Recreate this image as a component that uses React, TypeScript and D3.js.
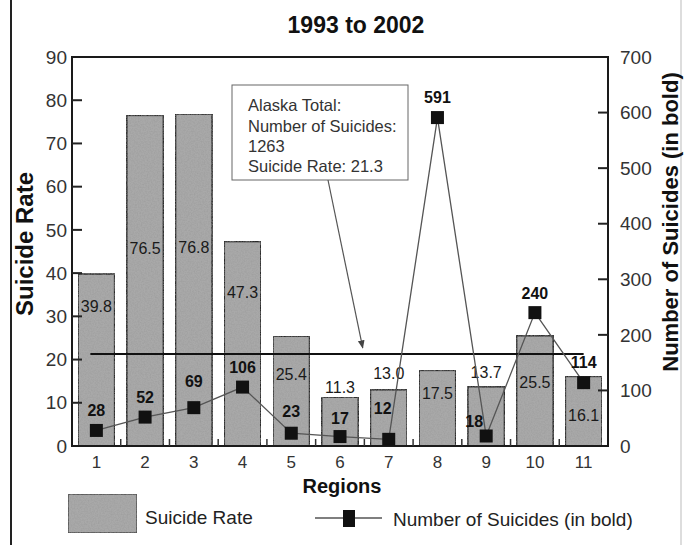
import React from "react";
import * as d3 from "d3";

const regions = ["1", "2", "3", "4", "5", "6", "7", "8", "9", "10", "11"];
const suicideRate = [39.8, 76.5, 76.8, 47.3, 25.4, 11.3, 13.0, 17.5, 13.7, 25.5, 16.1];
const suicideCount = [28, 52, 69, 106, 23, 17, 12, 591, 18, 240, 114];
const rateTicks = [0, 10, 20, 30, 40, 50, 60, 70, 80, 90];
const countTicks = [0, 100, 200, 300, 400, 500, 600, 700];
const alaskaTotalCount = 1263;
const alaskaTotalRate = 21.3;

const W = 684;
const H = 545;
const M = { left: 72, right: 608, top: 57, bottom: 446 };
const FONT = "'Liberation Sans', Arial, sans-serif";

// label nudges (px) so the numbers stay clear of each other, like the original
const rateLabelDy = [32, 133, 133, 51, 38, -10, -16, 23, -14, 47, 39];
const countLabelNudge = [
  [0, -20], [0, -20], [0, -26], [0, -20], [0, -22], [0, -18],
  [-6, -31], [0, -20], [-12, -15], [0, -19], [0, -20],
];

export default function App() {
  const x = d3
    .scaleBand<string>()
    .domain(regions)
    .range([M.left, M.right])
    .paddingInner(0.25)
    .paddingOuter(0.125);
  const yRate = d3.scaleLinear().domain([0, 90]).range([M.bottom, M.top]);
  const yCount = d3.scaleLinear().domain([0, 700]).range([M.bottom, M.top]);
  const cx = (r: string) => (x(r) as number) + x.bandwidth() / 2;

  const line = d3
    .line<number>()
    .x((_, i) => cx(regions[i]))
    .y((d) => yCount(d));

  const boundaries = regions
    .slice(0, -1)
    .map((r) => (x(r) as number) + x.bandwidth() + (x.step() - x.bandwidth()) / 2);

  const boxX = 232, boxY = 85, boxW = 176, boxH = 95;
  const arrowEnd = [cx("7") - 26, yRate(alaskaTotalRate) - 6];

  return (
    <svg
      width={W}
      height={H}
      style={{ position: "absolute", left: 0, top: 0, background: "#fff" }}
      fontFamily={FONT}
    >
      <defs>
        <filter id="grain" x="0" y="0" width="100%" height="100%">
          <feTurbulence type="fractalNoise" baseFrequency="0.7" numOctaves="2" seed="3" result="n" />
          <feColorMatrix in="n" type="matrix"
            values="0 0 0 0 0.3  0 0 0 0 0.3  0 0 0 0 0.3  0 0 0 0.9 -0.3" result="g" />
          <feComposite in="g" in2="SourceGraphic" operator="in" result="gc" />
          <feMerge>
            <feMergeNode in="SourceGraphic" />
            <feMergeNode in="gc" />
          </feMerge>
        </filter>
        <marker id="arrow" viewBox="0 0 10 10" refX="9" refY="5" markerWidth="7" markerHeight="7" orient="auto">
          <path d="M0,1 L10,5 L0,9 z" fill="#444" />
        </marker>
      </defs>

      {/* page borders of the scan */}
      <line x1={11} x2={11} y1={0} y2={H} stroke="#222" strokeWidth={2} />
      <line x1={681} x2={681} y1={0} y2={H} stroke="#bbb" strokeWidth={1} />

      <text x={356} y={33} textAnchor="middle" fontSize={23} fontWeight="bold" fill="#111">
        1993 to 2002
      </text>

      {/* bars */}
      {suicideRate.map((v, i) => (
        <rect
          key={"b" + i}
          x={x(regions[i])}
          y={yRate(v)}
          width={x.bandwidth()}
          height={M.bottom - yRate(v)}
          fill="#a9a9a9"
          stroke="#2b2b2b"
          strokeWidth={1.6}
          filter="url(#grain)"
        />
      ))}

      {/* plot frame */}
      <rect x={M.left} y={M.top} width={M.right - M.left} height={M.bottom - M.top}
        fill="none" stroke="#1a1a1a" strokeWidth={2} />

      {/* left ticks */}
      {rateTicks.map((t) => (
        <g key={"lt" + t}>
          {t > 0 && t < 90 && (
            <line x1={M.left} x2={M.left + 10} y1={yRate(t)} y2={yRate(t)} stroke="#222" strokeWidth={2} />
          )}
          <text x={M.left - 5} y={yRate(t)} dy="0.35em" textAnchor="end" fontSize={19} fill="#333">
            {t}
          </text>
        </g>
      ))}
      {/* right ticks */}
      {countTicks.map((t) => (
        <g key={"rt" + t}>
          {t > 0 && t < 700 && (
            <line x1={M.right - 10} x2={M.right} y1={yCount(t)} y2={yCount(t)} stroke="#222" strokeWidth={2} />
          )}
          <text x={M.right + 12} y={yCount(t)} dy="0.35em" textAnchor="start" fontSize={19} fill="#333">
            {t}
          </text>
        </g>
      ))}
      {/* x ticks between regions */}
      {boundaries.map((b, i) => (
        <line key={"xt" + i} x1={b} x2={b} y1={M.bottom - 7} y2={M.bottom} stroke="#333" strokeWidth={1.5} />
      ))}
      {regions.map((r) => (
        <text key={"xl" + r} x={cx(r)} y={468} textAnchor="middle" fontSize={17} fill="#333">
          {r}
        </text>
      ))}

      {/* Alaska total rate line */}
      <line x1={cx("1") - 6} x2={cx("11")} y1={yRate(alaskaTotalRate)} y2={yRate(alaskaTotalRate)}
        stroke="#111" strokeWidth={2} />

      {/* bar value labels */}
      {suicideRate.map((v, i) => (
        <text key={"rl" + i} x={cx(regions[i])} y={yRate(v) + rateLabelDy[i]} dy="0.35em"
          textAnchor="middle" fontSize={16} fill="#1a1a1a">
          {v.toFixed(1)}
        </text>
      ))}

      {/* suicide count line */}
      <path d={line(suicideCount) || ""} fill="none" stroke="#555" strokeWidth={1.3} />
      {suicideCount.map((v, i) => (
        <rect key={"m" + i} x={cx(regions[i]) - 6.5} y={yCount(v) - 6.5} width={13} height={13} fill="#111" />
      ))}
      {suicideCount.map((v, i) => (
        <text key={"cl" + i} x={cx(regions[i]) + countLabelNudge[i][0]} y={yCount(v) + countLabelNudge[i][1]}
          dy="0.35em" textAnchor="middle" fontSize={16} fontWeight="bold" fill="#111">
          {v}
        </text>
      ))}

      {/* annotation */}
      <rect x={boxX} y={boxY} width={boxW} height={boxH} fill="#fff" stroke="#666" strokeWidth={1} />
      <g fontSize={16.5} fill="#333">
        <text x={boxX + 16} y={boxY + 26}>Alaska Total:</text>
        <text x={boxX + 16} y={boxY + 47}>Number of Suicides:</text>
        <text x={boxX + 16} y={boxY + 67}>{alaskaTotalCount}</text>
        <text x={boxX + 16} y={boxY + 87}>Suicide Rate:  {alaskaTotalRate}</text>
      </g>
      <line x1={boxX + 96} y1={boxY + boxH} x2={arrowEnd[0]} y2={arrowEnd[1]}
        stroke="#555" strokeWidth={1.2} markerEnd="url(#arrow)" />

      {/* axis titles */}
      <text x={342} y={493} textAnchor="middle" fontSize={20} fontWeight="bold" fill="#111">
        Regions
      </text>
      <text transform={`translate(33, 244) rotate(-90)`} textAnchor="middle"
        fontSize={24} fontWeight="bold" fill="#111">
        Suicide Rate
      </text>
      <text transform={`translate(678, 222) rotate(-90)`} textAnchor="middle"
        fontSize={22} fontWeight="bold" fill="#111">
        Number of Suicides (in bold)
      </text>

      {/* legend */}
      <rect x={68} y={494} width={69} height={39} fill="#a9a9a9" stroke="#444" strokeWidth={1.5} filter="url(#grain)" />
      <text x={145} y={524} fontSize={19} fill="#222">Suicide Rate</text>
      <line x1={315} x2={382} y1={518} y2={518} stroke="#555" strokeWidth={1.3} />
      <rect x={343} y={510} width={12} height={17} fill="#111" />
      <text x={393} y={526} fontSize={19} fill="#222">Number of Suicides (in bold)</text>
    </svg>
  );
}
